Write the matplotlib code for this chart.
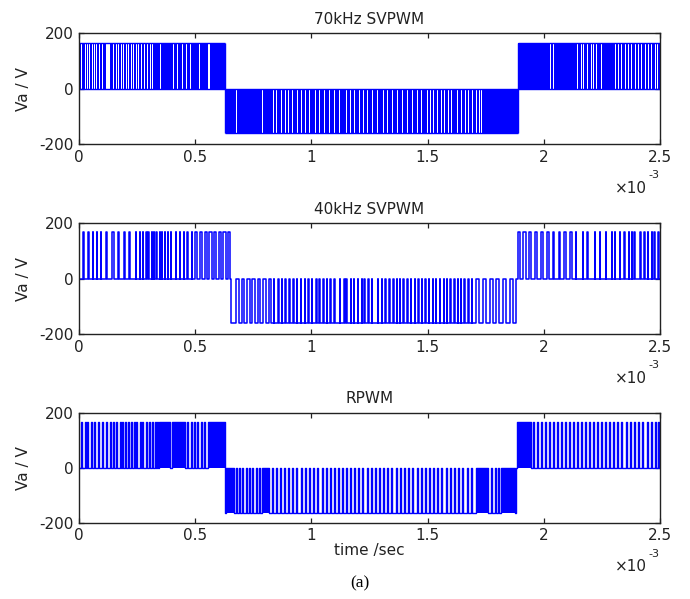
import matplotlib
matplotlib.use('Agg')
import matplotlib.pyplot as plt

plt.rcParams['font.family'] = ['DejaVu Sans']
plt.rcParams['font.size'] = 11
plt.rcParams['axes.unicode_minus'] = False

BLUE = (0, 0, 1)
t_end = 2.5  # ms

# ---- 70kHz SVPWM: dense switching, listed times are the idle gaps (ms)
svpwm70_flip = [0.630, 1.888]
svpwm70_lvl = [164, -162]
svpwm70_gap = [0.012, 0.027, 0.037, 0.045, 0.057, 0.065, 0.077, 0.088, 0.100,
               0.150, 0.163, 0.171, 0.183, 0.193, 0.203, 0.214, 0.226, 0.236,
               0.246, 0.257, 0.270, 0.283, 0.296, 0.306, 0.318, 0.349, 0.407,
               0.425, 0.444, 0.461, 0.478, 0.519,
               0.679, 0.788, 0.837, 0.851, 0.870, 0.889, 0.903, 0.917, 0.939,
               0.956, 0.975, 0.992, 1.018, 1.035, 1.056, 1.078, 1.099, 1.121,
               1.150, 1.168, 1.185, 1.207, 1.226, 1.243, 1.264, 1.286, 1.312,
               1.329, 1.350, 1.372, 1.393, 1.415, 1.436, 1.455, 1.475, 1.498,
               1.512, 1.527, 1.544, 1.558, 1.573, 1.590, 1.604, 1.630, 1.647,
               1.662, 1.676, 1.695, 1.709, 1.723, 1.733,
               2.029, 2.043, 2.146, 2.161, 2.172, 2.187, 2.204, 2.215, 2.228,
               2.247, 2.307, 2.321, 2.336, 2.350, 2.364, 2.379, 2.393, 2.408,
               2.422, 2.436, 2.451, 2.465, 2.479, 2.491]
svpwm70_gap_w = 0.0045
svpwm70_wide_gap = [(0.117, 0.134), (0.555, 0.564)]

# ---- 40kHz SVPWM: single pulses, centre (ms) and width (us)
svpwm40_flip = [0.655, 1.880]
svpwm40_lvl = [168, -162]
svpwm40_t = [0.019, 0.041, 0.061, 0.077, 0.095, 0.118, 0.146, 0.171, 0.196, 0.219,
             0.246, 0.263, 0.276, 0.290, 0.300, 0.315, 0.322, 0.333, 0.349, 0.358,
             0.369, 0.382, 0.397, 0.418, 0.435, 0.451, 0.468, 0.486, 0.504, 0.526,
             0.546, 0.566, 0.586, 0.606, 0.626, 0.646,
             0.683, 0.706, 0.729, 0.752, 0.775, 0.798, 0.821,
             0.840, 0.858, 0.873, 0.889, 0.906, 0.923, 0.939, 0.956, 0.973, 0.988,
             1.003, 1.021, 1.035, 1.052, 1.068, 1.082, 1.099, 1.122, 1.142, 1.152,
             1.170, 1.183, 1.200, 1.217, 1.228, 1.246, 1.261, 1.286, 1.303, 1.319,
             1.336, 1.353, 1.368, 1.382, 1.396, 1.414, 1.429, 1.445, 1.461, 1.475,
             1.491, 1.505, 1.523, 1.537, 1.554, 1.570, 1.584, 1.599, 1.616, 1.630,
             1.644, 1.659, 1.677, 1.692,
             1.716, 1.745, 1.774, 1.802, 1.831, 1.860,
             1.894, 1.917, 1.940, 1.967, 1.992, 2.017, 2.042, 2.068, 2.092, 2.118,
             2.139, 2.168, 2.189, 2.220, 2.243, 2.268, 2.294, 2.307, 2.329, 2.347,
             2.366, 2.379, 2.390, 2.416, 2.433, 2.448, 2.465, 2.476, 2.494]
svpwm40_w = ([2, 2, 2, 2, 2, 6, 5, 5, 4, 5] + [2] * 13 + [2, 2, 2, 3, 3]
             + [8, 8, 8, 9, 9, 9, 9, 9]
             + [11] * 6 + [10]
             + [2] * 54
             + [13] * 6
             + [10] * 5 + [7] * 5
             + [2] * 19)

# ---- RPWM: narrow spikes (ms) plus solid switching blocks
rpwm_flip = [0.630, 1.881]
rpwm_lvl = [168, -164]
rpwm_spike = [0.009, 0.027, 0.038, 0.052, 0.067, 0.084, 0.103, 0.117, 0.136, 0.148,
              0.163, 0.177, 0.189, 0.200, 0.213, 0.227, 0.239, 0.249, 0.263, 0.275,
              0.289, 0.303, 0.315, 0.328, 0.339, 0.468, 0.483, 0.497, 0.511, 0.526,
              0.540,
              0.676, 0.691, 0.705, 0.719, 0.734, 0.748, 0.762, 0.777, 0.831, 0.848,
              0.866, 0.884, 0.903, 0.920, 0.937, 0.956, 0.975, 0.992, 1.010, 1.028,
              1.046, 1.064, 1.082, 1.099, 1.118, 1.135, 1.150, 1.168, 1.185, 1.203,
              1.221, 1.240, 1.257, 1.276, 1.293, 1.312, 1.329, 1.346, 1.365, 1.383,
              1.401, 1.419, 1.436, 1.455, 1.472, 1.490, 1.508, 1.527, 1.544, 1.561,
              1.580, 1.599, 1.616, 1.633, 1.652, 1.670, 1.687, 1.774, 1.791, 1.805,
              1.957, 1.974, 1.992, 2.009, 2.025, 2.043, 2.060, 2.078, 2.095, 2.112,
              2.129, 2.146, 2.164, 2.181, 2.198, 2.215, 2.232, 2.250, 2.267, 2.284,
              2.301, 2.319, 2.336, 2.354, 2.372, 2.390, 2.407, 2.426, 2.445, 2.462,
              2.479, 2.494]
rpwm_spike_w = 0.004
rpwm_block = [(0.346, 0.392), (0.399, 0.454), (0.554, 0.628), (0.632, 0.665),
              (0.788, 0.817), (1.709, 1.762), (1.814, 1.877), (1.885, 1.943)]

titles = ['70kHz SVPWM', '40kHz SVPWM', 'RPWM']
xticks = [0, 0.5, 1, 1.5, 2, 2.5]
xticklabels = ['0', '0.5', '1', '1.5', '2', '2.5']
yticks = [-200, 0, 200]


def sector(t, flips):
    return sum(t >= f for f in flips)


def base_peak(lvl):
    hi, lo = lvl
    return [0, lo, 0], [hi, 0, hi]


def trace(flips, lvl, centers, widths):
    base, peak = base_peak(lvl)
    xs, ys, sec = [0.0], [base[0]], 0
    for c, w in sorted(zip(centers, widths)):
        s = sector(c, flips)
        while sec < s:
            xs += [flips[sec], flips[sec]]
            ys += [base[sec], base[sec + 1]]
            sec += 1
        xs += [c - w / 2, c - w / 2, c + w / 2, c + w / 2]
        ys += [base[s], peak[s], peak[s], base[s]]
    while sec < 2:
        xs += [flips[sec], flips[sec]]
        ys += [base[sec], base[sec + 1]]
        sec += 1
    xs.append(t_end)
    ys.append(base[sec])
    return xs, ys


def bands(flips, gaps, gap_w, wide):
    edges = [0.0] + flips + [t_end]
    holes = [(g - gap_w / 2, g + gap_w / 2) for g in gaps] + wide
    out = []
    for s in range(3):
        a, b = edges[s], edges[s + 1]
        cur = a
        for h0, h1 in sorted(h for h in holes if a <= (h[0] + h[1]) / 2 < b):
            out.append((s, cur, h0))
            cur = h1
        out.append((s, cur, b))
    return out


fig = plt.figure(figsize=(6.9, 5.99), dpi=100)
rects = [[0.1145, 0.7596, 0.842, 0.1848],
         [0.1145, 0.4424, 0.842, 0.1848],
         [0.1145, 0.1274, 0.842, 0.1836]]
axes = [fig.add_axes(r) for r in rects]

# 70kHz
ax = axes[0]
base, peak = base_peak(svpwm70_lvl)
bb = bands(svpwm70_flip, svpwm70_gap, svpwm70_gap_w, svpwm70_wide_gap)
ax.bar([a for s, a, b in bb], [peak[s] - base[s] for s, a, b in bb],
       width=[b - a for s, a, b in bb], bottom=[base[s] for s, a, b in bb],
       align='edge', color=BLUE, linewidth=0)
edges = [0.0] + svpwm70_flip + [t_end]
for s in range(3):
    ax.hlines([base[s], peak[s]], edges[s], edges[s + 1], color=BLUE, lw=1.0)
ax.vlines(svpwm70_flip, svpwm70_lvl[1], svpwm70_lvl[0], color=BLUE, lw=1.0)

# 40kHz
ax = axes[1]
xs, ys = trace(svpwm40_flip, svpwm40_lvl, svpwm40_t, [w / 1000 for w in svpwm40_w])
ax.plot(xs, ys, color=BLUE, lw=1.1)

# RPWM
ax = axes[2]
base, peak = base_peak(rpwm_lvl)
cent = rpwm_spike + [(a + b) / 2 for a, b in rpwm_block]
wid = [rpwm_spike_w] * len(rpwm_spike) + [b - a for a, b in rpwm_block]
xs, ys = trace(rpwm_flip, rpwm_lvl, cent, wid)
ax.plot(xs, ys, color=BLUE, lw=1.0)
for a, b in rpwm_block:
    s = sector((a + b) / 2, rpwm_flip)
    ax.bar(a, peak[s] - base[s], width=b - a, bottom=base[s], align='edge',
           color=BLUE, linewidth=0)

for ax, title in zip(axes, titles):
    ax.set_xlim(0, t_end)
    ax.set_ylim(-200, 200)
    ax.set_xticks(xticks)
    ax.set_xticklabels(xticklabels)
    ax.set_yticks(yticks)
    ax.tick_params(direction='in', top=True, right=True, length=3.5,
                   width=0.9, pad=4, labelsize=11, colors='#222222')
    for sp in ax.spines.values():
        sp.set_linewidth(1.0)
        sp.set_color('#222222')
    ax.set_title(title, fontsize=11, pad=7, color='#222222')
    ax.set_ylabel('Va / V', labelpad=6, color='#222222')
    ax.text(0.978, -0.443, '\u00d710', transform=ax.transAxes,
            ha='right', va='baseline', fontsize=11, color='#222222')
    ax.text(0.981, -0.31, '-3', transform=ax.transAxes,
            ha='left', va='baseline', fontsize=8, color='#222222')

axes[2].set_xlabel('time /sec', labelpad=0, color='#222222')
fig.text(360 / 690, 1 - 583 / 599, '(a)', ha='center', va='center',
         family='Liberation Serif', fontsize=12.5)

fig.savefig('out.png', dpi=100)
